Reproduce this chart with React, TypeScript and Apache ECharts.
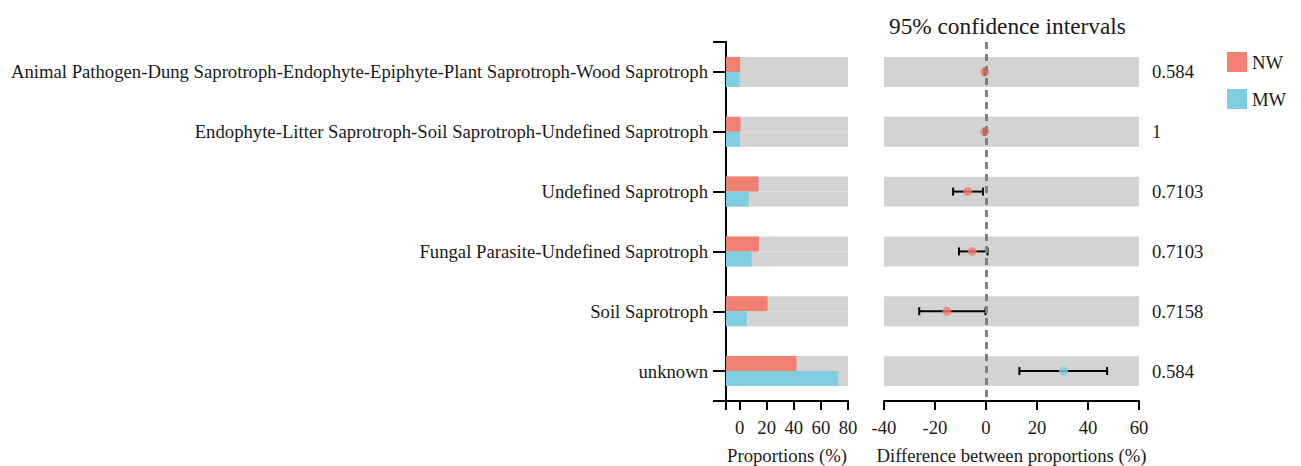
import React, { useEffect, useRef } from "react";
import * as echarts from "echarts";

const categories = [
  "Animal Pathogen-Dung Saprotroph-Endophyte-Epiphyte-Plant Saprotroph-Wood Saprotroph",
  "Endophyte-Litter Saprotroph-Soil Saprotroph-Undefined Saprotroph",
  "Undefined Saprotroph",
  "Fungal Parasite-Undefined Saprotroph",
  "Soil Saprotroph",
  "unknown",
];
const nwValues = [0.5, 0.7, 14, 14.3, 20.7, 42];
const mwValues = [0, 0.2, 6.7, 8.9, 5.4, 72.8];
const diffValues = [-0.5, -0.5, -7.2, -5.4, -15.3, 30.4];
const lowerCI = [-0.8, -0.8, -12.9, -10.6, -26.2, 13.1];
const upperCI = [-0.2, -0.2, -1.2, 0.6, -0.2, 47.5];
const pValues = ["0.584", "1", "0.7103", "0.7103", "0.7158", "0.584"];
const leftTicks = [-10, 0, 20, 40, 60, 80];
const leftLabels = [0, 20, 40, 60, 80];

const NW_COLOR = "#F08072";
const MW_COLOR = "#7ECEE0";
const GREY = "#D3D3D3";
const FONT = "'Liberation Serif', 'Times New Roman', serif";
const TEXT = "#1a1a1a";
const FS = 18.7;

export default function App() {
  const ref = useRef<HTMLDivElement>(null);
  useEffect(() => {
    document.body.style.margin = "0";
    const chart = echarts.init(ref.current!, null, { renderer: "svg" });
    const axisLineStyle = { color: "#000", width: 2 };
    const txt = { fontFamily: FONT, fontSize: FS, color: TEXT };
    const option: any = {
      animation: false,
      textStyle: { fontFamily: FONT },
      title: {
        text: "95% confidence intervals",
        left: 889,
        top: 14,
        padding: 0,
        textStyle: { fontFamily: FONT, fontSize: 23.3, fontWeight: "normal", color: TEXT },
      },
      legend: {
        data: ["NW", "MW"],
        orient: "vertical",
        left: 1227,
        top: 52,
        padding: 0,
        icon: "rect",
        itemWidth: 20,
        itemHeight: 20,
        itemGap: 17,
        textStyle: txt,
      },
      grid: [
        { left: 726, width: 122, top: 42, height: 359, containLabel: false, outerBoundsMode: "none" },
        { left: 884, width: 255, top: 42, height: 359, containLabel: false, outerBoundsMode: "none" },
      ],
      xAxis: [
        {
          type: "value",
          gridIndex: 0,
          min: -10,
          max: 80,
          startValue: -10,
          splitLine: { show: false },
          axisLine: { show: true, onZero: false, lineStyle: axisLineStyle },
          axisTick: { show: true, length: 9, lineStyle: axisLineStyle, customValues: leftTicks },
          axisLabel: { ...txt, margin: 17, customValues: leftLabels },
          name: "Proportions (%)",
          nameLocation: "middle",
          nameGap: 45,
          nameTextStyle: txt,
        },
        {
          type: "value",
          gridIndex: 1,
          min: -40,
          max: 60,
          interval: 20,
          splitLine: { show: false },
          axisLine: { show: true, onZero: false, lineStyle: axisLineStyle },
          axisTick: { show: true, length: 9, lineStyle: axisLineStyle },
          axisLabel: { ...txt, margin: 17 },
          name: "Difference between proportions (%)",
          nameLocation: "middle",
          nameGap: 45,
          nameTextStyle: txt,
        },
      ],
      yAxis: [
        {
          type: "category",
          gridIndex: 0,
          data: categories,
          inverse: true,
          axisLine: { show: true, onZero: false, lineStyle: axisLineStyle },
          axisTick: { show: true, alignWithLabel: true, length: 13, lineStyle: axisLineStyle },
          axisLabel: { ...txt, margin: 18 },
        },
        {
          type: "value",
          gridIndex: 0,
          min: 0,
          max: 6,
          position: "left",
          axisLine: { show: true, onZero: false, lineStyle: axisLineStyle },
          axisTick: { show: true, length: 13, lineStyle: axisLineStyle, customValues: [0, 6] },
          axisLabel: { show: false },
          splitLine: { show: false },
        },
        {
          type: "category",
          gridIndex: 1,
          data: categories,
          inverse: true,
          show: false,
        },
        {
          type: "category",
          gridIndex: 1,
          data: pValues,
          inverse: true,
          position: "right",
          axisLine: { show: false },
          axisTick: { show: false },
          axisLabel: { ...txt, margin: 13 },
        },
      ],
      series: [
        {
          name: "NW",
          type: "bar",
          xAxisIndex: 0,
          yAxisIndex: 0,
          data: nwValues,
          barWidth: 15,
          barGap: "0%",
          itemStyle: { color: NW_COLOR },
          showBackground: true,
          backgroundStyle: { color: GREY },
          z: 2,
        },
        {
          name: "MW",
          type: "bar",
          xAxisIndex: 0,
          yAxisIndex: 0,
          data: mwValues,
          barWidth: 15,
          barGap: "0%",
          itemStyle: { color: MW_COLOR },
          showBackground: true,
          backgroundStyle: { color: GREY },
          z: 2,
        },
        {
          type: "custom",
          xAxisIndex: 1,
          yAxisIndex: 2,
          data: categories.map((_, i) => [i]),
          encode: { y: 0 },
          z: 1,
          silent: true,
          renderItem: (params: any, api: any) => {
            const cs = params.coordSys;
            const cy = api.coord([0, api.value(0)])[1];
            const h = api.size([0, 1])[1] * 0.5;
            return {
              type: "rect",
              shape: { x: cs.x, y: cy - h / 2, width: cs.width, height: h },
              style: { fill: GREY },
            };
          },
          markLine: {
            silent: true,
            symbol: "none",
            label: { show: false },
            lineStyle: { color: "#808080", width: 3, type: [7, 5] },
            data: [{ xAxis: 0 }],
          },
        },
        {
          type: "custom",
          xAxisIndex: 1,
          yAxisIndex: 2,
          data: categories.map((_, i) => [i, lowerCI[i], upperCI[i]]),
          encode: { y: 0, x: [1, 2] },
          z: 3,
          silent: true,
          renderItem: (params: any, api: any) => {
            const idx = api.value(0);
            const lo = api.coord([api.value(1), idx]);
            const hi = api.coord([api.value(2), idx]);
            const cap = 4;
            const st = { stroke: "#000", lineWidth: 2 };
            return {
              type: "group",
              children: [
                { type: "line", shape: { x1: lo[0], y1: lo[1], x2: hi[0], y2: hi[1] }, style: st },
                { type: "line", shape: { x1: lo[0], y1: lo[1] - cap, x2: lo[0], y2: lo[1] + cap }, style: st },
                { type: "line", shape: { x1: hi[0], y1: hi[1] - cap, x2: hi[0], y2: hi[1] + cap }, style: st },
              ],
            };
          },
        },
        {
          type: "scatter",
          xAxisIndex: 1,
          yAxisIndex: 2,
          symbolSize: 9,
          z: 4,
          data: diffValues.map((v, i) => ({
            value: [v, i],
            itemStyle: { color: v < 0 ? NW_COLOR : MW_COLOR },
          })),
        },
      ],
    };
    chart.setOption(option);
    return () => chart.dispose();
  }, []);
  return <div ref={ref} style={{ width: 1301, height: 466 }} />;
}
